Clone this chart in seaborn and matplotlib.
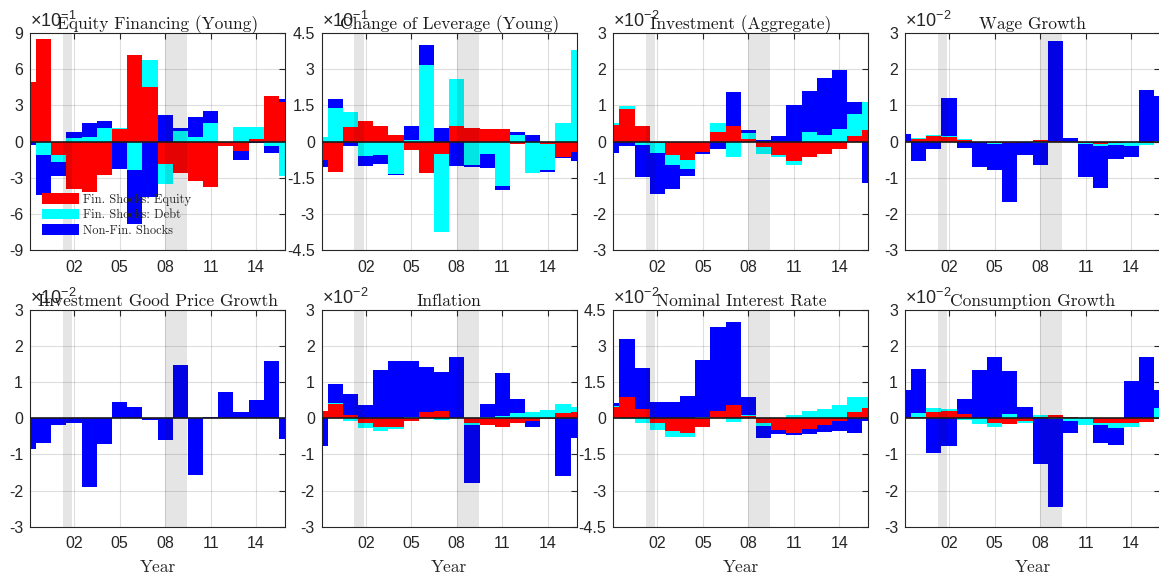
import numpy as np
import seaborn as sns
from matplotlib import pyplot as plt

# Historical decomposition, 1999-2016 (values in units of the panel's 10^k)
years = np.arange(1999, 2017)

titles = ["Equity Financing (Young)", "Change of Leverage (Young)",
          "Investment (Aggregate)", "Wage Growth",
          "Investment Good Price Growth", "Inflation",
          "Nominal Interest Rate", "Consumption Growth"]
exponents = [-1, -1, -2, -2, -2, -2, -2, -2]
ylims = [9, 4.5, 3, 3, 3, 3, 4.5, 3]
ysteps = [3, 1.5, 1, 1, 1, 1, 1.5, 1]

series_names = ["Fin. Shocks: Equity", "Fin. Shocks: Debt", "Non-Fin. Shocks"]

equity_red = [4.9, 8.5, -1.1, -3.9, -4.2, -2.8, 1.05, 7.2, 4.5, -1.9, -2.63, -3.3, -3.75, -0.36, -0.75, 0.22, 3.8, 3.3]
equity_cyan = [0, -1.1, -0.6, 0.3, 0.4, 1.15, 0.05, -2.4, 2.3, -1.6, 0.83, 0.4, 1.5, 0, 1.19, 0.97, -0.35, -2.85]
equity_blue = [-0.3, -3.3, -1.2, 0.5, 1.15, 0.55, -2.27, -4.45, -4.57, 2.2, 0.28, 1.6, 1.05, 0, -0.78, -0.14, -0.6, 0.25]

lev_red = [-0.76, -1.27, 0.62, 0.83, 0.64, 0.28, -0.37, -1.29, -0.51, 0.66, 0.55, 0.51, 0.51, -0.11, -0.02, -0.1, -0.65, -0.42]
lev_cyan = [0.18, 1.41, 0.6, -0.6, -0.55, -1.34, 0.05, 3.19, -3.23, 1.93, -0.97, -0.5, -1.83, 0.28, -1.27, -1.08, 0.76, 3.8]
lev_blue = [-0.28, 0.35, -0.17, -0.42, -0.37, -0.03, 0.6, 0.83, 0.57, -1.0, -0.1, -0.61, -0.18, 0.11, 0.25, -0.07, -0.04, -0.37]

inv_red = [0.46, 0.9, 0.42, -0.05, -0.37, -0.51, -0.28, 0.27, 0.44, 0.07, -0.16, -0.37, -0.55, -0.42, -0.34, -0.2, 0.14, 0.32]
inv_cyan = [0.05, 0.09, -0.1, -0.28, -0.28, -0.26, -0.02, 0.24, -0.43, 0.16, -0.19, -0.06, -0.09, 0.25, 0.18, 0.35, 0.63, 0.77]
inv_blue = [-0.32, -0.12, -0.89, -1.11, -0.65, -0.18, -0.04, -0.22, 0.92, 0.09, 0.03, 0.14, 1.0, 1.14, 1.57, 1.63, 0.32, -1.14]

wage_red = [0.01, 0.06, 0.14, 0.12, 0.05, 0.0, -0.03, -0.04, 0.0, 0.03, 0.01, 0.0, -0.03, -0.06, -0.03, -0.02, -0.03, -0.01]
wage_cyan = [0.01, 0.04, 0.04, 0.04, 0.01, -0.02, -0.04, 0.0, -0.02, -0.03, 0.01, -0.02, -0.05, -0.06, -0.08, -0.1, -0.08, 0.02]
wage_blue = [0.2, -0.53, -0.21, 1.03, -0.18, -0.69, -0.73, -1.62, -0.35, -0.62, 2.75, 0.1, -0.91, -1.17, -0.37, -0.32, 1.43, 1.25]

ipg_red = [0.0] * 18
ipg_cyan = [0.0] * 18
ipg_blue = [-0.85, -0.69, -0.2, -0.14, -1.91, -0.71, 0.46, 0.32, -0.05, -0.61, 1.46, -1.58, 0.03, 0.72, 0.18, 0.49, 1.57, -0.57]

infl_red = [0.21, 0.39, 0.08, -0.14, -0.25, -0.24, -0.09, 0.18, 0.21, 0.01, -0.14, -0.2, -0.25, -0.12, -0.09, -0.01, 0.14, 0.18]
infl_cyan = [0.0, 0.02, -0.08, -0.14, -0.1, -0.05, 0.03, 0.0, -0.05, 0.0, -0.04, 0.02, 0.06, 0.13, 0.16, 0.22, 0.25, 0.14]
infl_blue = [-0.76, 0.53, 0.6, 0.37, 1.34, 1.59, 1.55, 1.24, 1.08, 1.67, -1.6, 0.38, 1.19, 0.41, -0.14, -0.02, -1.6, -0.55]

rate_red = [0.46, 0.87, 0.39, -0.18, -0.55, -0.62, -0.35, 0.29, 0.53, 0.11, -0.21, -0.48, -0.6, -0.44, -0.3, -0.11, 0.25, 0.44]
rate_cyan = [0.05, -0.03, -0.2, -0.3, -0.25, -0.15, 0.04, 0.0, -0.14, 0.01, -0.1, 0.02, 0.12, 0.29, 0.4, 0.55, 0.65, 0.46]
rate_blue = [0.12, 2.41, 1.69, 0.68, 0.69, 0.94, 2.37, 3.5, 3.46, 0.76, -0.5, -0.17, -0.1, -0.21, -0.28, -0.42, -0.6, -0.1]

cons_red = [0.02, 0.03, 0.18, 0.21, 0.11, 0.01, -0.14, -0.17, -0.07, 0.04, 0.08, 0.02, 0.0, -0.12, -0.12, -0.12, -0.11, 0.01]
cons_cyan = [0.02, 0.11, 0.11, 0.05, -0.05, -0.15, -0.09, 0.11, -0.07, 0.05, -0.02, -0.07, -0.18, -0.08, -0.14, -0.13, 0.0, 0.27]
cons_blue = [0.73, 1.22, -0.97, -0.78, 0.41, 1.31, 1.7, 1.19, 0.3, -1.27, -2.44, -0.34, 0.0, -0.49, -0.48, 1.04, 1.7, 0.49]

panels = [
    (equity_red, equity_cyan, equity_blue),
    (lev_red, lev_cyan, lev_blue),
    (inv_red, inv_cyan, inv_blue),
    (wage_red, wage_cyan, wage_blue),
    (ipg_red, ipg_cyan, ipg_blue),
    (infl_red, infl_cyan, infl_blue),
    (rate_red, rate_cyan, rate_blue),
    (cons_red, cons_cyan, cons_blue),
]

recessions = [(2001.25, 2001.88), (2008.0, 2009.45)]
xticks = [2002, 2005, 2008, 2011, 2014]
xticklabels = ["02", "05", "08", "11", "14"]

colors = ["#ff0000", "#00ffff", "#0000ff"]
dark = (0.15, 0.15, 0.15)

sns.set_theme(style="white")
plt.rcParams['font.family'] = ['Liberation Sans', 'DejaVu Sans']
plt.rcParams['axes.unicode_minus'] = False
plt.rcParams['mathtext.fontset'] = 'custom'
plt.rcParams['mathtext.rm'] = 'Liberation Sans'
plt.rcParams['mathtext.it'] = 'Liberation Sans:italic'

fig = plt.figure(figsize=(11.59, 5.76), dpi=100)
W, H = 1159.0, 576.0
lefts = [30, 321.7, 613.3, 905]
tops = [33, 309.7]
aw, ah = 255, 217

for i, (title, data) in enumerate(zip(titles, panels)):
    r, c = divmod(i, 4)
    ax = fig.add_axes([lefts[c] / W, 1 - (tops[r] + ah) / H, aw / W, ah / H])
    pos = np.zeros(len(years))
    neg = np.zeros(len(years))
    for vals, col, name in zip(data, colors, series_names):
        v = np.asarray(vals, dtype=float)
        base = np.where(v >= 0, pos, neg)
        ax.bar(years, v, width=1.0, bottom=base, color=col, linewidth=0,
               label=name, zorder=2)
        pos = pos + np.clip(v, 0, None)
        neg = neg + np.clip(v, None, 0)
    for a, b in recessions:
        ax.axvspan(a, b, color='k', alpha=0.11, lw=0, zorder=3)
    ax.axhline(0, color='k', lw=1.2, zorder=4)

    lim = ylims[i]
    ax.set_ylim(-lim, lim)
    ax.set_xlim(1999.1, 2015.9)
    yt = np.arange(-lim, lim + 1e-9, ysteps[i])
    ax.set_yticks(yt)
    ax.set_yticklabels(["%g" % t for t in yt])
    ax.set_xticks(xticks)
    ax.set_xticklabels(xticklabels)
    ax.set_axisbelow(True)
    ax.grid(True, color=dark, alpha=0.15, linewidth=0.8)
    ax.tick_params(direction='in', top=True, right=True, length=4, width=0.8,
                   color=dark, labelcolor=dark, labelsize=11.5, pad=5)
    ax.tick_params(axis='x', pad=7)
    for s in ax.spines.values():
        s.set_color(dark)
        s.set_linewidth(0.8)

    ax.text(0.0, 1.01, r"$\times10^{%d}$" % exponents[i], transform=ax.transAxes,
            ha='left', va='bottom', fontsize=13, color=dark)
    ax.set_title(title, fontfamily='cmr10', fontsize=12.5, pad=3, color='k')
    if r == 1:
        ax.set_xlabel("Year", fontfamily='cmr10', fontsize=12.5, labelpad=6)
    if i == 0:
        ax.legend(loc='upper left', bbox_to_anchor=(0.047, 0.262), frameon=False,
                  prop={'family': 'cmr10', 'size': 9}, handlelength=3.0,
                  handleheight=0.9, handletextpad=0.3, labelspacing=0.25,
                  borderpad=0, borderaxespad=0)

fig.savefig("out.png", dpi=100)
